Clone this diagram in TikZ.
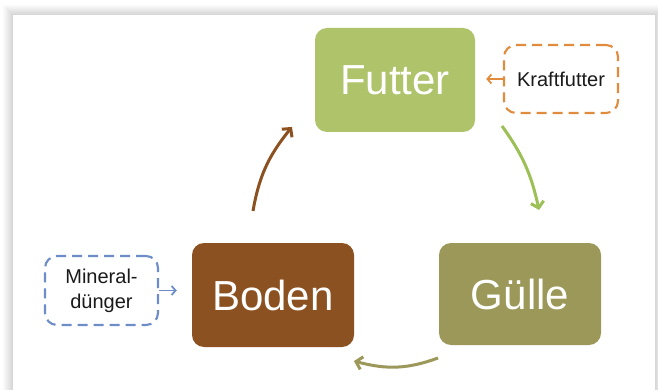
\documentclass[tikz,border=0pt]{standalone}
\usepackage{fontspec}
\setmainfont{Liberation Sans}
\usetikzlibrary{arrows.meta,bending,positioning,calc}
\definecolor{futtercolor}{RGB}{174,195,106}
\definecolor{bodencolor}{RGB}{140,81,33}
\definecolor{guellecolor}{RGB}{155,152,89}
\definecolor{kraftcolor}{RGB}{224,140,60}
\definecolor{mineralcolor}{RGB}{108,141,200}
\definecolor{futteredge}{RGB}{156,192,85}
\definecolor{textcolor}{RGB}{26,26,26}
\tikzstyle{stage}=[rounded corners=12pt, text=white, inner sep=0pt, font=\fontsize{42}{48}\selectfont]
\tikzstyle{input box}=[draw, rounded corners=12pt, line width=2.1pt, dash pattern=on 10pt off 6pt, text=textcolor, align=center, inner sep=0pt, font=\fontsize{20}{25}\selectfont]
\tikzstyle{cycle edge}=[-{Straight Barb[length=6pt,width=13pt,bend]}, line width=3pt]
\tikzstyle{feed edge}=[-{Straight Barb[length=4pt,width=9pt]}, line width=1.8pt]

\begin{document}
\begin{tikzpicture}[x=1pt,y=-1pt]
\useasboundingbox (0,0) rectangle (658,390);
\fill[white] (0,0) rectangle (658,390);

	% Panel with soft shadow
    \foreach \d in {1,...,10}
        \fill[black, opacity=0.016] (13-\d,15-\d) rectangle (655+\d,400+\d);
    \fill[white] (13,15) rectangle (655,400);

	% Cycle stages
    \node[stage, fill=futtercolor, minimum width=160pt, minimum height=104pt] (Futter) at (395,80) {Futter};
    \node[stage, fill=guellecolor, minimum width=162pt, minimum height=102pt] (Guelle) at (520,294) {Gülle};
    \node[stage, fill=bodencolor, minimum width=162pt, minimum height=104pt] (Boden) at (273,295) {Boden};

	% Inputs
    \node[input box, draw=kraftcolor, minimum width=114pt, minimum height=68pt] (Kraft) at (561,79) {Kraftfutter};
    \node[input box, draw=mineralcolor, minimum width=113pt, minimum height=69pt] (Mineral) at (101.5,290.5) {Mineral-\\dünger};

	% Cycle arrows
    \coordinate (F-out) at (502,126);
    \coordinate (G-in) at (539,210);
    \coordinate (G-out) at (438,358);
    \coordinate (B-in) at (354,361);
    \coordinate (B-out) at (253,211);
    \coordinate (F-in) at (292,127);

    \draw[cycle edge, futteredge] (F-out) to[bend left=12] (G-in);
    \draw[cycle edge, guellecolor] (G-out) to[bend left=18] (B-in);
    \draw[cycle edge, bodencolor] (B-out) to[bend left=15] (F-in);

	% Input arrows
    \draw[feed edge, kraftcolor, shorten >=11pt] (Kraft.west) -- (Kraft.west -| Futter.east);
    \draw[feed edge, mineralcolor, shorten >=15pt] (Mineral.east) -- (Mineral.east -| Boden.west);

\end{tikzpicture}
\end{document}
